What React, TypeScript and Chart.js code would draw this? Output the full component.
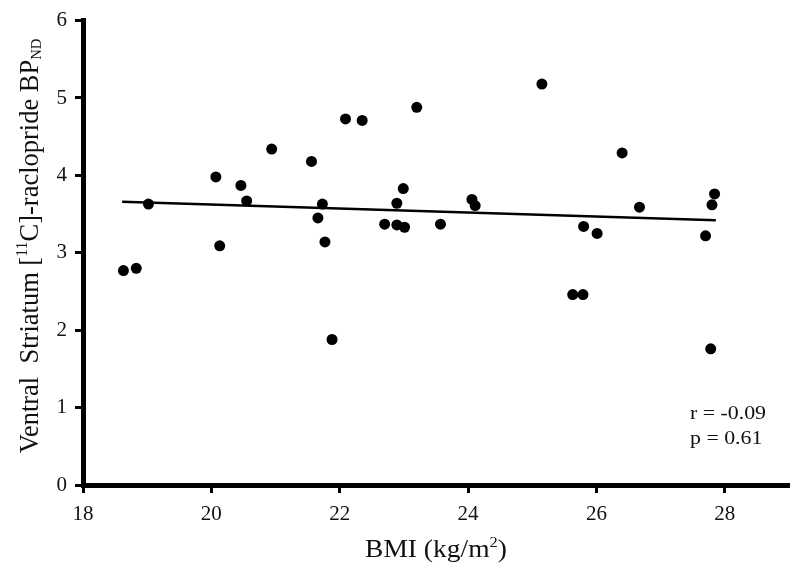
import React, { useEffect, useRef } from 'react';
import { Chart, registerables } from 'chart.js';

Chart.register(...registerables);

// BMI (kg/m2) of each subject
const bmi = [
  18.63, 18.83, 19.02, 20.07, 20.13, 20.46, 20.55, 20.94, 21.56, 21.66, 21.73, 21.77,
  21.88, 22.09, 22.35, 22.70, 22.89, 22.99, 22.89, 23.01, 23.20, 23.57, 24.06, 24.11,
  25.15, 25.63, 25.79, 25.80, 26.01, 26.40, 26.67, 27.70, 27.78, 27.80, 27.84,
];
// Ventral striatum [11C]-raclopride BPND of each subject
const bp = [
  2.77, 2.80, 3.63, 3.98, 3.09, 3.87, 3.67, 4.34, 4.18, 3.45, 3.63, 3.14,
  1.88, 4.73, 4.71, 3.37, 3.64, 3.83, 3.36, 3.33, 4.88, 3.37, 3.69, 3.61,
  5.18, 2.46, 2.46, 3.34, 3.25, 4.29, 3.59, 3.22, 1.76, 3.62, 3.76,
];
// regression line end points
const fitX = [18.61, 27.86];
const fitY = [3.66, 3.42];

const xTicks = [18, 20, 22, 24, 26, 28];
const yTicks = [0, 1, 2, 3, 4, 5, 6];
const statLines = ['r = -0.09', 'p = 0.61'];

const FONT = "'Liberation Serif', 'DejaVu Serif', serif";

type Seg = { text: string; scale?: number; dy?: number };

const xTitle: Seg[] = [
  { text: 'BMI (kg/m' },
  { text: '2', scale: 0.6, dy: -0.42 },
  { text: ')' },
];
const yTitle: Seg[] = [
  { text: 'Ventral  Striatum [' },
  { text: '11', scale: 0.6, dy: -0.42 },
  { text: 'C]-raclopride BP' },
  { text: 'ND', scale: 0.55, dy: 0.12 },
];

function drawRich(ctx: CanvasRenderingContext2D, segs: Seg[], cx: number, baseY: number, size: number, sx = 1) {
  let total = 0;
  const widths = segs.map((s) => {
    ctx.font = `${size * (s.scale || 1)}px ${FONT}`;
    const w = ctx.measureText(s.text).width * sx;
    total += w;
    return w;
  });
  let x = cx - total / 2;
  ctx.textAlign = 'left';
  ctx.textBaseline = 'alphabetic';
  segs.forEach((s, i) => {
    const sz = size * (s.scale || 1);
    ctx.font = `${sz}px ${FONT}`;
    ctx.save();
    ctx.translate(x, baseY + (s.dy || 0) * size);
    ctx.scale(sx, 1);
    ctx.fillText(s.text, 0, 0);
    ctx.restore();
    x += widths[i];
  });
}

const titlesPlugin = {
  id: 'richTitles',
  afterDraw(chart: any) {
    const ctx: CanvasRenderingContext2D = chart.ctx;
    const area = chart.chartArea;
    ctx.save();
    ctx.fillStyle = '#111';
    // x title
    drawRich(ctx, xTitle, 436, 557, 25, 1.1);
    // y title
    ctx.save();
    ctx.translate(38, 246);
    ctx.rotate(-Math.PI / 2);
    drawRich(ctx, yTitle, 0, 0, 26.5);
    ctx.restore();
    // stats
    statLines.forEach((t, i) => {
      ctx.save();
      ctx.font = `19px ${FONT}`;
      ctx.textAlign = 'left';
      ctx.textBaseline = 'alphabetic';
      ctx.translate(area.right - 99, 419 + i * 25);
      ctx.scale(1.15, 1);
      ctx.fillText(t, 0, 0);
      ctx.restore();
    });
    ctx.restore();
  },
};

export default function App() {
  const ref = useRef<HTMLCanvasElement | null>(null);
  useEffect(() => {
    if (!ref.current) return;
    const tickFont = { family: FONT, size: 21 };
    const chart = new Chart(ref.current, {
      type: 'scatter',
      data: {
        datasets: [
          {
            type: 'scatter',
            data: bmi.map((x, i) => ({ x, y: bp[i] })),
            backgroundColor: '#000',
            borderWidth: 0,
            pointRadius: 5.5,
            pointHoverRadius: 5.5,
          },
          {
            type: 'line',
            data: fitX.map((x, i) => ({ x, y: fitY[i] })),
            borderColor: '#000',
            borderWidth: 2.5,
            pointRadius: 0,
            fill: false,
          } as any,
        ],
      },
      options: {
        animation: false,
        responsive: false,
        maintainAspectRatio: false,
        layout: { padding: { top: 17, right: 11, left: 0, bottom: 0 } },
        plugins: { legend: { display: false }, tooltip: { enabled: false } },
        scales: {
          x: {
            type: 'linear',
            min: 18,
            max: 29,
            afterBuildTicks: (s: any) => {
              s.ticks = xTicks.map((v) => ({ value: v }));
            },
            afterFit: (s: any) => {
              s.height = 88;
            },
            grid: { drawOnChartArea: false, drawTicks: true, tickLength: 8, tickWidth: 3, tickColor: '#000' },
            border: { display: true, color: '#000', width: 5 },
            ticks: { font: tickFont, color: '#111', padding: 9, autoSkip: false, maxRotation: 0 },
          },
          y: {
            type: 'linear',
            min: 0,
            max: 6,
            afterBuildTicks: (s: any) => {
              s.ticks = yTicks.map((v) => ({ value: v }));
            },
            afterFit: (s: any) => {
              s.width = 83;
            },
            grid: { drawOnChartArea: false, drawTicks: true, tickLength: 8, tickWidth: 3, tickColor: '#000' },
            border: { display: true, color: '#000', width: 5 },
            ticks: { font: tickFont, color: '#111', padding: 8, autoSkip: false },
          },
        },
      },
      plugins: [titlesPlugin],
    });
    return () => chart.destroy();
  }, []);
  return (
    <div style={{ position: 'fixed', left: 0, top: 0, width: 800, height: 573, background: '#fff' }}>
      <canvas ref={ref} width={800} height={573} style={{ width: 800, height: 573 }} />
    </div>
  );
}
